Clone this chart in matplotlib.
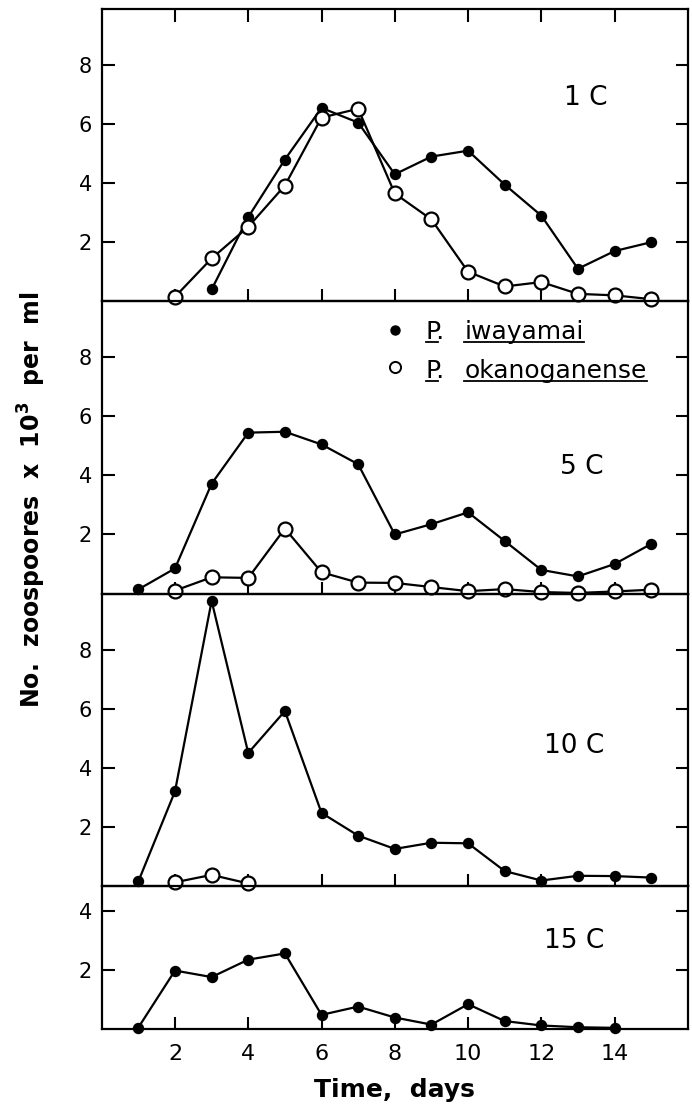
import numpy as np
import matplotlib
matplotlib.use("Agg")
import matplotlib.pyplot as plt
from matplotlib.transforms import offset_copy

plt.rcParams['font.family'] = ['DejaVu Sans']

# --- data (zoospores x 10^3 per ml) ---
days_1c_iw = [3, 4, 5, 6, 7, 8, 9, 10, 11, 12, 13, 14, 15]
vals_1c_iw = [0.4, 2.85, 4.8, 6.55, 6.05, 4.3, 4.9, 5.1, 3.95, 2.9, 1.1, 1.7, 2.0]
days_1c_ok = [2, 3, 4, 5, 6, 7, 8, 9, 10, 11, 12, 13, 14, 15]
vals_1c_ok = [0.15, 1.45, 2.52, 3.92, 6.22, 6.52, 3.65, 2.77, 1.0, 0.5, 0.65, 0.25, 0.2, 0.07]

days_5c_iw = [1, 2, 3, 4, 5, 6, 7, 8, 9, 10, 11, 12, 13, 14, 15]
vals_5c_iw = [0.14, 0.85, 3.72, 5.45, 5.48, 5.05, 4.38, 2.0, 2.35, 2.75, 1.78, 0.8, 0.58, 1.0, 1.68]
days_5c_ok = [2, 3, 4, 5, 6, 7, 8, 9, 10, 11, 12, 13, 14, 15]
vals_5c_ok = [0.1, 0.55, 0.53, 2.2, 0.72, 0.37, 0.36, 0.22, 0.08, 0.15, 0.05, 0.02, 0.07, 0.13]

days_10c_iw = [1, 2, 3, 4, 5, 6, 7, 8, 9, 10, 11, 12, 13, 14, 15]
vals_10c_iw = [0.15, 3.2, 9.65, 4.5, 5.92, 2.47, 1.7, 1.25, 1.46, 1.44, 0.5, 0.18, 0.34, 0.33, 0.28]
days_10c_ok = [2, 3, 4]
vals_10c_ok = [0.12, 0.37, 0.08]

days_15c_iw = [1, 2, 3, 4, 5, 6, 7, 8, 9, 10, 11, 12, 13, 14]
vals_15c_iw = [0.05, 1.98, 1.76, 2.35, 2.56, 0.48, 0.76, 0.39, 0.15, 0.84, 0.27, 0.12, 0.06, 0.04]

panels = [
    ("1 C", days_1c_iw, vals_1c_iw, days_1c_ok, vals_1c_ok, 9.9, (13.2, 6.9)),
    ("5 C", days_5c_iw, vals_5c_iw, days_5c_ok, vals_5c_ok, 9.9, (13.1, 4.3)),
    ("10 C", days_10c_iw, vals_10c_iw, days_10c_ok, vals_10c_ok, 9.9, (12.9, 4.74)),
    ("15 C", days_15c_iw, vals_15c_iw, None, None, 4.85, (12.9, 2.98)),
]
x_ticks = [2, 4, 6, 8, 10, 12, 14]

fig, axes = plt.subplots(4, 1, figsize=(6.92, 11.06), dpi=100,
                         gridspec_kw={'height_ratios': [p[5] for p in panels], 'hspace': 0})
fig.subplots_adjust(left=0.147, right=0.994, top=0.9919, bottom=0.0696)

for i, (ax, (lab, dx, vx, do, vo, ytop, lpos)) in enumerate(zip(axes, panels)):
    ax.patch.set_visible(False)
    ax.plot(dx, vx, '-o', color='black', lw=1.6, ms=7.2, clip_on=False, zorder=3)
    if do is not None:
        ax.plot(do, vo, '-o', color='black', lw=1.6, ms=10, mfc='white', mec='black',
                mew=1.6, clip_on=False, zorder=4)
    ax.set_xlim(0, 16)
    ax.set_ylim(0, ytop)
    ax.set_xticks(x_ticks)
    ax.set_yticks([2, 4, 6, 8] if ytop > 5 else [2, 4])
    ax.tick_params(axis='both', direction='in', length=9, width=1.5, right=True,
                   top=(i == 0))
    ax.tick_params(axis='y', labelsize=15, pad=7)
    ax.tick_params(axis='x', labelsize=16, pad=11, labelbottom=(i == 3))
    for s in ax.spines.values():
        s.set_linewidth(1.6)
    ax.text(lpos[0], lpos[1], lab, fontsize=19, ha='center', va='center')

axes[3].set_xlabel("Time,  days", fontsize=18, fontweight='bold', labelpad=10)
fig.text(32 / 692, 1 - 500 / 1106, r"No.  zoospoores  x  10$^{\mathbf{3}}$  per  ml",
         rotation=90, fontsize=17, fontweight='bold', ha='center', va='center')

# legend inside the 5 C panel, with underlined species names
ax = axes[1]
ax.plot([8.0], [8.93], 'o', color='black', ms=6.5, clip_on=False)
ax.plot([8.0], [7.66], 'o', mfc='white', mec='black', mew=1.4, ms=8, clip_on=False)
rows = [(8.62, "iwayamai"), (7.31, "okanoganense")]
texts = []
for yb, name in rows:
    t1 = ax.text(8.85, yb, "P.", fontsize=18, ha='left', va='baseline')
    t2 = ax.text(9.9, yb, name, fontsize=18, ha='left', va='baseline')
    texts.append((t1, yb, True))
    texts.append((t2, yb, False))

fig.canvas.draw()
r = fig.canvas.get_renderer()
inv = ax.transData.inverted()
tr = offset_copy(ax.transData, fig=fig, y=-3, units='dots')
for t, yb, only_p in texts:
    bb = t.get_window_extent(r)
    x0 = inv.transform((bb.x0, bb.y0))[0]
    x1 = inv.transform((bb.x1, bb.y0))[0]
    if only_p:
        x1 = x0 + (x1 - x0) * 0.62
    ax.plot([x0, x1], [yb, yb], transform=tr, color='black', lw=1.3, clip_on=False)

fig.savefig("out.png", dpi=100)
